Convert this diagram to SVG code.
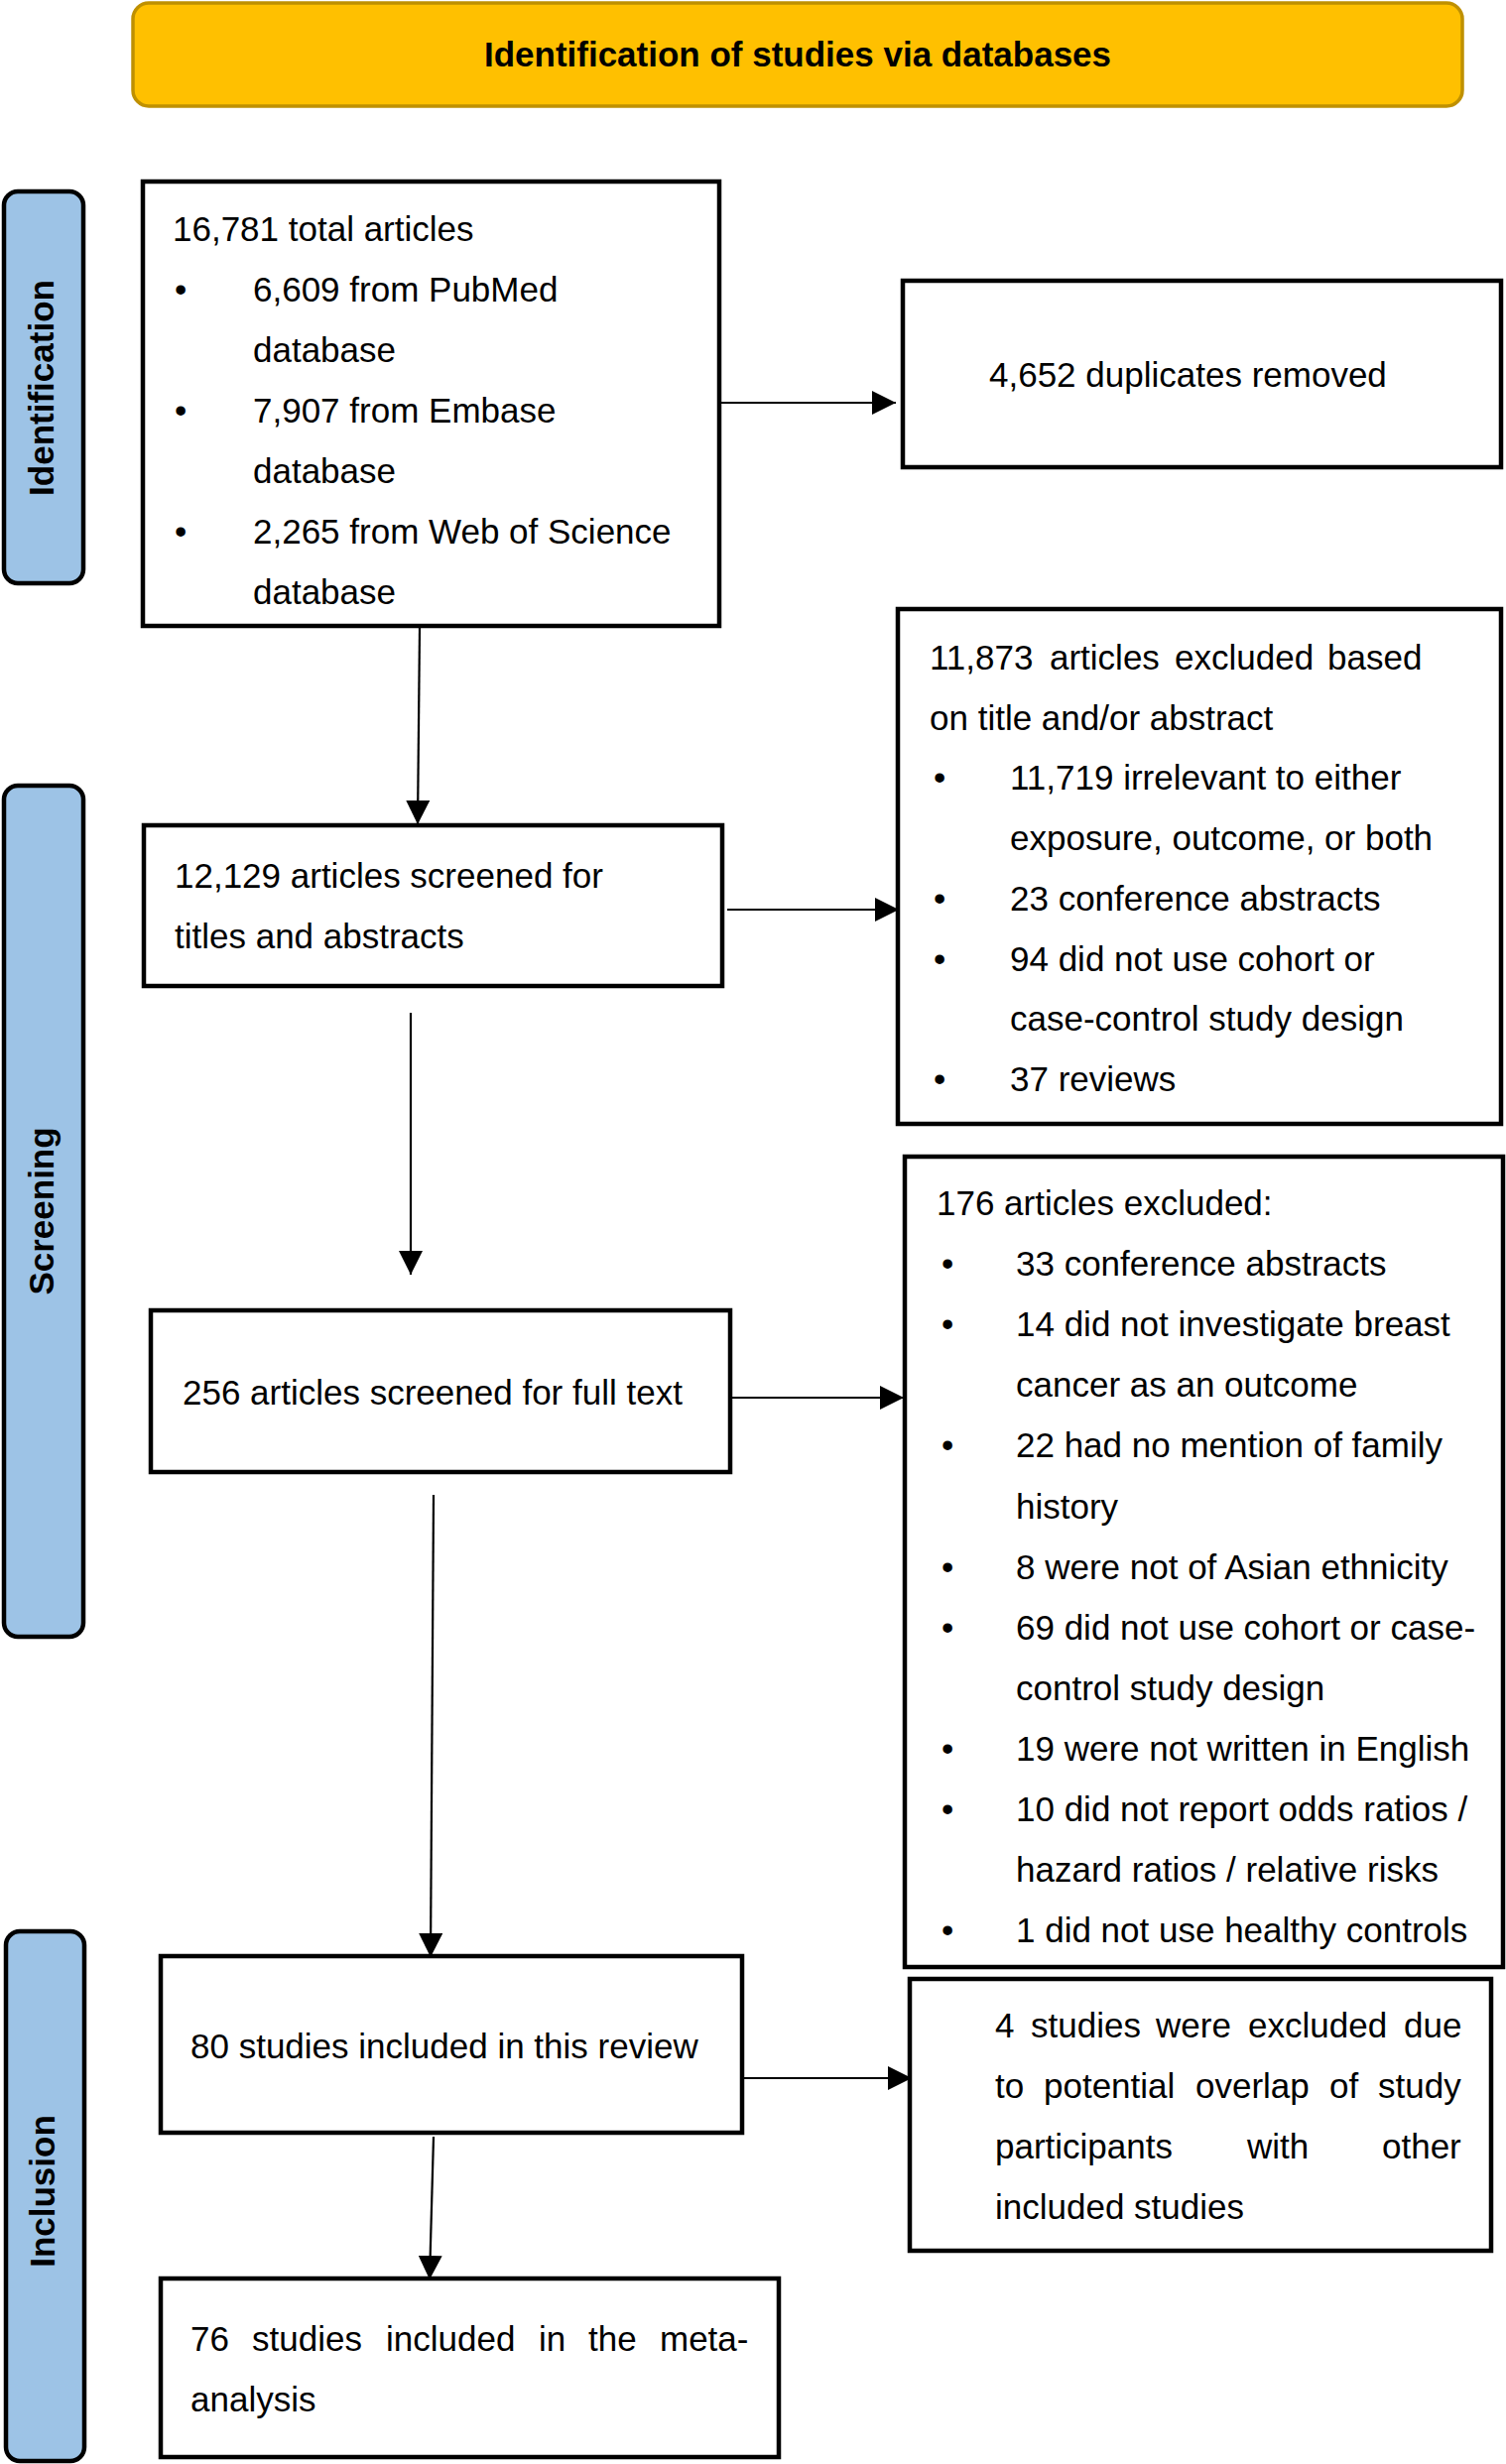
<svg xmlns="http://www.w3.org/2000/svg" width="1518" height="2484" viewBox="0 0 1518 2484">
<style>
.bg{fill:#ffffff}
.box{fill:#ffffff;stroke:#000000;stroke-width:4.5}
.side{fill:#9dc3e6;stroke:#000000;stroke-width:4.5}
.title{fill:#ffc000;stroke:#bf9000;stroke-width:3.5}
.t{font-family:"Liberation Sans",Arial,sans-serif;font-size:35px;fill:#000000}
.tb{font-family:"Liberation Sans",Arial,sans-serif;font-size:35px;font-weight:bold;fill:#000000}
.conn{fill:none;stroke:#000000;stroke-width:2.2}
</style>
<defs>
<marker id="arr" viewBox="0 0 24 24" markerWidth="24" markerHeight="24" markerUnits="userSpaceOnUse" refX="24" refY="12" orient="auto">
<path d="M0,0 L24,12 L0,24 z" fill="#000000"/>
</marker>
</defs>
<rect class="bg" x="0" y="0" width="1518" height="2484"/>

<g id="header">
<rect class="title" x="134" y="3" width="1340" height="104" rx="16" ry="16"/>
<text class="tb" x="804" y="67" text-anchor="middle">Identification of studies via databases</text>
</g>

<g id="label-identification">
<rect class="side" x="4" y="193" width="80" height="395" rx="14" ry="14"/>
<text class="tb" transform="translate(54,391) rotate(-90)" text-anchor="middle">Identification</text>
</g>
<g id="label-screening">
<rect class="side" x="4" y="792" width="80" height="858" rx="14" ry="14"/>
<text class="tb" transform="translate(54,1221) rotate(-90)" text-anchor="middle">Screening</text>
</g>
<g id="label-inclusion">
<rect class="side" x="6" y="1947" width="79" height="534" rx="14" ry="14"/>
<text class="tb" transform="translate(55,2209) rotate(-90)" text-anchor="middle">Inclusion</text>
</g>

<g id="node-records">
<rect class="box" x="144" y="183" width="581" height="448"/>
<text class="t" x="174" y="243">16,781 total articles</text>
<text class="t" x="176" y="304">•</text>
<text class="t" x="255" y="304">6,609 from PubMed</text>
<text class="t" x="255" y="365">database</text>
<text class="t" x="176" y="426">•</text>
<text class="t" x="255" y="426">7,907 from Embase</text>
<text class="t" x="255" y="487">database</text>
<text class="t" x="176" y="548">•</text>
<text class="t" x="255" y="548">2,265 from Web of Science</text>
<text class="t" x="255" y="609">database</text>
</g>

<g id="node-duplicates">
<rect class="box" x="910" y="283" width="603" height="188"/>
<text class="t" x="997" y="390">4,652 duplicates removed</text>
</g>

<g id="node-screened">
<rect class="box" x="145" y="832" width="583" height="162"/>
<text class="t" x="176" y="895">12,129 articles screened for</text>
<text class="t" x="176" y="956">titles and abstracts</text>
</g>

<g id="node-excluded-title">
<rect class="box" x="905" y="614" width="608" height="519"/>
<text class="t" y="675"><tspan x="937">11,873</tspan><tspan x="1058">articles</tspan><tspan x="1184">excluded</tspan><tspan x="1338">based</tspan></text>
<text class="t" x="937" y="736">on title and/or abstract</text>
<text class="t" x="941" y="796">•</text>
<text class="t" x="1018" y="796">11,719 irrelevant to either</text>
<text class="t" x="1018" y="857">exposure, outcome, or both</text>
<text class="t" x="941" y="918">•</text>
<text class="t" x="1018" y="918">23 conference abstracts</text>
<text class="t" x="941" y="979">•</text>
<text class="t" x="1018" y="979">94 did not use cohort or</text>
<text class="t" x="1018" y="1039">case-control study design</text>
<text class="t" x="941" y="1100">•</text>
<text class="t" x="1018" y="1100">37 reviews</text>
</g>

<g id="node-fulltext">
<rect class="box" x="152" y="1321" width="584" height="163"/>
<text class="t" x="184" y="1416">256 articles screened for full text</text>
</g>

<g id="node-excluded-fulltext">
<rect class="box" x="912" y="1166" width="603" height="817"/>
<text class="t" x="944" y="1225">176 articles excluded:</text>
<text class="t" x="949" y="1286">•</text>
<text class="t" x="1024" y="1286">33 conference abstracts</text>
<text class="t" x="949" y="1347">•</text>
<text class="t" x="1024" y="1347">14 did not investigate breast</text>
<text class="t" x="1024" y="1408">cancer as an outcome</text>
<text class="t" x="949" y="1469">•</text>
<text class="t" x="1024" y="1469">22 had no mention of family</text>
<text class="t" x="1024" y="1531">history</text>
<text class="t" x="949" y="1592">•</text>
<text class="t" x="1024" y="1592">8 were not of Asian ethnicity</text>
<text class="t" x="949" y="1653">•</text>
<text class="t" x="1024" y="1653">69 did not use cohort or case-</text>
<text class="t" x="1024" y="1714">control study design</text>
<text class="t" x="949" y="1775">•</text>
<text class="t" x="1024" y="1775">19 were not written in English</text>
<text class="t" x="949" y="1836">•</text>
<text class="t" x="1024" y="1836">10 did not report odds ratios /</text>
<text class="t" x="1024" y="1897">hazard ratios / relative risks</text>
<text class="t" x="949" y="1958">•</text>
<text class="t" x="1024" y="1958">1 did not use healthy controls</text>
</g>

<g id="node-included-review">
<rect class="box" x="162" y="1972" width="586" height="178"/>
<text class="t" x="192" y="2075">80 studies included in this review</text>
</g>

<g id="node-overlap">
<rect class="box" x="917" y="1995" width="586" height="274"/>
<text class="t" y="2054"><tspan x="1003">4</tspan><tspan x="1039">studies</tspan><tspan x="1165">were</tspan><tspan x="1258">excluded</tspan><tspan x="1415">due</tspan></text>
<text class="t" y="2115"><tspan x="1003">to</tspan><tspan x="1052">potential</tspan><tspan x="1205">overlap</tspan><tspan x="1340">of</tspan><tspan x="1389">study</tspan></text>
<text class="t" y="2176"><tspan x="1003">participants</tspan><tspan x="1257">with</tspan><tspan x="1393">other</tspan></text>
<text class="t" x="1003" y="2237">included studies</text>
</g>

<g id="node-meta">
<rect class="box" x="162" y="2297" width="623" height="180"/>
<text class="t" y="2370"><tspan x="192">76</tspan><tspan x="254">studies</tspan><tspan x="389">included</tspan><tspan x="543">in</tspan><tspan x="593">the</tspan><tspan x="665">meta-</tspan></text>
<text class="t" x="192" y="2431">analysis</text>
</g>

<g id="connectors">
<line class="conn" x1="423" y1="633" x2="421" y2="831" marker-end="url(#arr)"/>
<line class="conn" x1="414" y1="1021" x2="414" y2="1285" marker-end="url(#arr)"/>
<line class="conn" x1="437" y1="1507" x2="434" y2="1973" marker-end="url(#arr)"/>
<line class="conn" x1="437" y1="2154" x2="433" y2="2298" marker-end="url(#arr)"/>
<line class="conn" x1="727" y1="406" x2="903" y2="406" marker-end="url(#arr)"/>
<line class="conn" x1="733" y1="917" x2="906" y2="917" marker-end="url(#arr)"/>
<line class="conn" x1="738" y1="1409" x2="911" y2="1409" marker-end="url(#arr)"/>
<line class="conn" x1="750" y1="2095" x2="919" y2="2095" marker-end="url(#arr)"/>
</g>
</svg>
